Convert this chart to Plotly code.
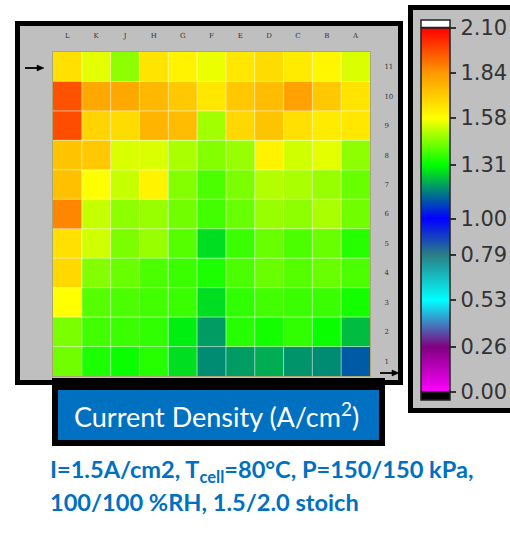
import plotly.graph_objects as go

W, H = 510, 547

# Flow-field segment grid: columns L..A (left to right), rows 11..1 (top to bottom)
columns = ["L", "K", "J", "H", "G", "F", "E", "D", "C", "B", "A"]
rows = ["11", "10", "9", "8", "7", "6", "5", "4", "3", "2", "1"]

# Current density per segment (A/cm2), one list per row, top row first
row_11 = [1.66, 1.55, 1.46, 1.65, 1.61, 1.56, 1.64, 1.67, 1.63, 1.60, 1.54]
row_10 = [1.96, 1.80, 1.80, 1.76, 1.72, 1.64, 1.72, 1.75, 1.82, 1.72, 1.65]
row_9 = [1.97, 1.69, 1.67, 1.77, 1.75, 1.48, 1.68, 1.73, 1.66, 1.63, 1.64]
row_8 = [1.73, 1.72, 1.54, 1.54, 1.49, 1.45, 1.47, 1.61, 1.53, 1.55, 1.46]
row_7 = [1.74, 1.58, 1.52, 1.61, 1.45, 1.39, 1.44, 1.50, 1.49, 1.47, 1.42]
row_6 = [1.87, 1.52, 1.46, 1.47, 1.43, 1.38, 1.42, 1.47, 1.46, 1.49, 1.43]
row_5 = [1.66, 1.53, 1.44, 1.47, 1.40, 1.27, 1.37, 1.42, 1.39, 1.42, 1.35]
row_4 = [1.68, 1.45, 1.42, 1.39, 1.37, 1.34, 1.39, 1.42, 1.40, 1.42, 1.39]
row_3 = [1.58, 1.40, 1.39, 1.38, 1.37, 1.27, 1.36, 1.38, 1.37, 1.37, 1.33]
row_2 = [1.44, 1.38, 1.37, 1.36, 1.29, 1.19, 1.35, 1.33, 1.36, 1.32, 1.23]
row_1 = [1.43, 1.34, 1.32, 1.35, 1.27, 1.17, 1.19, 1.21, 1.18, 1.17, 1.11]

current_density = [row_11, row_10, row_9, row_8, row_7, row_6,
                   row_5, row_4, row_3, row_2, row_1]

# Colour-bar tick values
cbar_ticks = [2.10, 1.84, 1.58, 1.31, 1.00, 0.79, 0.53, 0.26, 0.00]
z_min, z_max = 0.0, 2.10

colorscale = [
    [0.00 / z_max, "#ff00ff"],
    [0.26 / z_max, "#800080"],
    [0.53 / z_max, "#00ffff"],
    [0.79 / z_max, "#2b7f86"],
    [1.00 / z_max, "#0000ff"],
    [1.31 / z_max, "#00ff00"],
    [1.58 / z_max, "#ffff00"],
    [1.84 / z_max, "#ff9900"],
    [2.10 / z_max, "#ff0000"],
]


def px(x):
    return x / W


def py(y):
    return 1 - y / H


PANEL = "#bfbfbf"
BLUE = "#0070c0"

fig = go.Figure()

fig.add_trace(go.Heatmap(
    z=current_density,
    x=columns,
    y=rows,
    zmin=z_min,
    zmax=z_max,
    colorscale=colorscale,
    hoverongaps=False,
    colorbar=dict(
        x=px(421), xanchor="left",
        y=py(392), yanchor="bottom",
        len=(392 - 28) / H, lenmode="fraction",
        thickness=29, thicknessmode="pixels",
        outlinecolor="#222222", outlinewidth=1.5,
        tickmode="array",
        tickvals=cbar_ticks,
        ticktext=["%.2f" % v for v in cbar_ticks],
        ticks="outside", ticklen=6, tickwidth=1.5, tickcolor="#333333",
        tickfont=dict(family="DejaVu Sans", size=21, color="#333333"),
        bgcolor="rgba(0,0,0,0)",
        borderwidth=0,
        xpad=0, ypad=0,
    ),
))

shapes = []
# left panel: gray with heavy black frame
shapes.append(dict(type="rect", xref="paper", yref="paper",
                   x0=px(17.5), x1=px(400.5), y0=py(382.5), y1=py(23.5),
                   fillcolor=PANEL, line=dict(color="black", width=5),
                   layer="below"))
# colour-bar panel, running off the right edge
shapes.append(dict(type="rect", xref="paper", yref="paper",
                   x0=px(410.5), x1=px(530), y0=py(410.5), y1=py(7.5),
                   fillcolor=PANEL, line=dict(color="black", width=5),
                   layer="below"))
# over-range (white) and under-range (black) swatches on the colour bar
shapes.append(dict(type="rect", xref="paper", yref="paper",
                   x0=px(421), x1=px(450), y0=py(27.5), y1=py(20),
                   fillcolor="white", line=dict(color="#222222", width=1.5),
                   layer="above"))
shapes.append(dict(type="rect", xref="paper", yref="paper",
                   x0=px(421), x1=px(450), y0=py(400), y1=py(392),
                   fillcolor="black", line=dict(color="#222222", width=1.5),
                   layer="above"))
# title box: black frame and blue fill
shapes.append(dict(type="rect", xref="paper", yref="paper",
                   x0=px(52), x1=px(385), y0=py(446), y1=py(378),
                   fillcolor="black", line=dict(color="black", width=0),
                   layer="below"))
shapes.append(dict(type="rect", xref="paper", yref="paper",
                   x0=px(58), x1=px(379), y0=py(440), y1=py(390),
                   fillcolor=BLUE, line=dict(color=BLUE, width=0),
                   layer="below"))
# faint separators between segments
n_cols, n_rows = len(columns), len(rows)
for i in range(1, n_cols):
    shapes.append(dict(type="line", xref="x", yref="y domain",
                       x0=i - 0.5, x1=i - 0.5, y0=0, y1=1,
                       line=dict(color="rgba(255,255,255,0.55)", width=1),
                       layer="above"))
for j in range(1, n_rows):
    shapes.append(dict(type="line", xref="x domain", yref="y",
                       x0=0, x1=1, y0=j - 0.5, y1=j - 0.5,
                       line=dict(color="rgba(255,255,255,0.55)", width=1),
                       layer="above"))


def flow_arrow(x_tail, x_head, y):
    """Horizontal black arrow pointing right, in pixel units."""
    line = dict(type="line", xref="paper", yref="paper",
                x0=px(x_tail), x1=px(x_head - 5), y0=py(y), y1=py(y),
                line=dict(color="black", width=1.8), layer="above")
    head = dict(type="path", xref="paper", yref="paper",
                path="M %f,%f L %f,%f L %f,%f Z" % (
                    px(x_head - 7), py(y - 3), px(x_head), py(y),
                    px(x_head - 7), py(y + 3)),
                fillcolor="black", line=dict(color="black", width=0.5),
                layer="above")
    return [line, head]


shapes += flow_arrow(25, 44, 68)
shapes += flow_arrow(380, 399, 373)

annotations = [
    dict(xref="paper", yref="paper", x=px(216), y=py(415),
         text="Current Density (A/cm<sup>2</sup>)", showarrow=False,
         font=dict(family="Lato", size=27, color="white"),
         xanchor="center", yanchor="middle"),
    dict(xref="paper", yref="paper", x=px(48), y=py(471),
         text="<b>I=1.5A/cm2, T<sub>cell</sub>=80°C, P=150/150 kPa,</b>",
         showarrow=False, font=dict(family="Lato", size=23.6, color=BLUE),
         xanchor="left", yanchor="middle"),
    dict(xref="paper", yref="paper", x=px(48), y=py(502),
         text="<b>100/100 %RH, 1.5/2.0 stoich</b>",
         showarrow=False, font=dict(family="Lato", size=23.6, color=BLUE),
         xanchor="left", yanchor="middle"),
]

fig.update_layout(
    width=W, height=H,
    margin=dict(l=0, r=0, t=0, b=0),
    paper_bgcolor="white",
    plot_bgcolor=PANEL,
    showlegend=False,
    shapes=shapes,
    annotations=annotations,
    xaxis=dict(
        domain=[px(53), px(370)],
        side="top", type="category",
        tickfont=dict(family="DejaVu Serif", size=7, color="#333333"),
        ticks="", ticklabelstandoff=10,
        showgrid=False, zeroline=False,
        showline=True, mirror=True, linecolor="#a8a878", linewidth=1,
        fixedrange=True,
    ),
    yaxis=dict(
        domain=[py(376), py(52)],
        side="right", type="category", autorange="reversed",
        tickfont=dict(family="DejaVu Serif", size=7, color="#333333"),
        ticks="", ticklabelstandoff=12,
        showgrid=False, zeroline=False,
        showline=True, mirror=True, linecolor="#a8a878", linewidth=1,
        fixedrange=True,
    ),
)

fig.write_html("out.html")
